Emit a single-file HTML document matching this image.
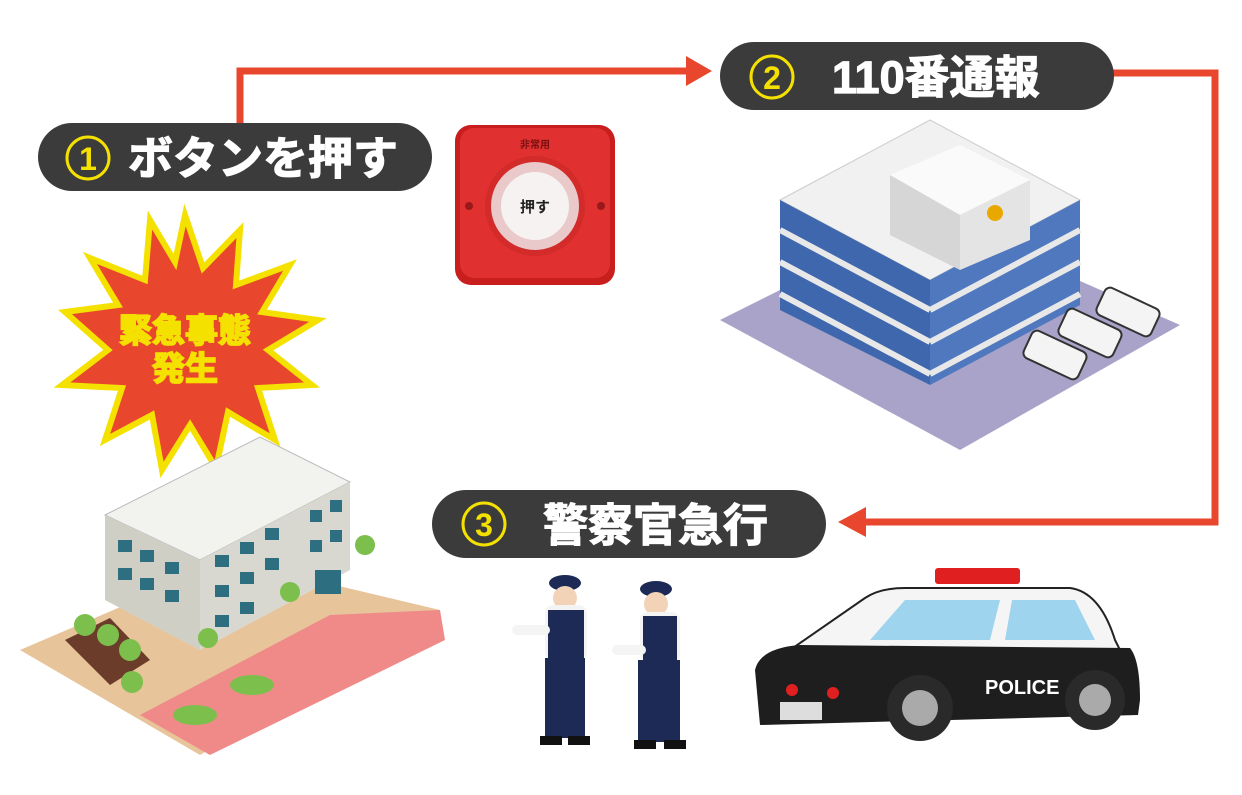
<!DOCTYPE html>
<html><head><meta charset="utf-8"><style>
html,body{margin:0;padding:0;background:#fff;}
svg{display:block;}
text{font-family:"Liberation Sans","Noto Sans CJK JP",sans-serif;font-weight:bold;}
</style></head><body>
<svg width="1242" height="795" viewBox="0 0 1242 795" xmlns="http://www.w3.org/2000/svg">
<polyline points="240,125 240,71 690,71" fill="none" stroke="#e8472d" stroke-width="7"/>
<polygon points="686,56 712,71 686,86" fill="#e8472d"/>
<polyline points="1112,73 1215,73 1215,522 862,522" fill="none" stroke="#e8472d" stroke-width="7"/>
<polygon points="866,507 838,522 866,537" fill="#e8472d"/>

<rect x="38" y="123" width="394" height="68" rx="34" fill="#3b3b3b"/>
<circle cx="88" cy="158" r="21" fill="none" stroke="#f5e100" stroke-width="3"/>
<text x="88" y="170" font-size="32" fill="#f5e100" text-anchor="middle">1</text>
<text x="128" y="174" font-size="45" fill="#fff" stroke="#fff" stroke-width="1.2">ボタンを押す</text>

<rect x="720" y="42" width="394" height="68" rx="34" fill="#3b3b3b"/>
<circle cx="772" cy="77" r="21" fill="none" stroke="#f5e100" stroke-width="3"/>
<text x="772" y="89" font-size="32" fill="#f5e100" text-anchor="middle">2</text>
<text x="832" y="93" font-size="45" fill="#fff" stroke="#fff" stroke-width="1.2">110番通報</text>

<rect x="432" y="490" width="394" height="68" rx="34" fill="#3b3b3b"/>
<circle cx="484" cy="524" r="21" fill="none" stroke="#f5e100" stroke-width="3"/>
<text x="484" y="536" font-size="32" fill="#f5e100" text-anchor="middle">3</text>
<text x="543" y="541" font-size="45" fill="#fff" stroke="#fff" stroke-width="1.2">警察官急行</text>

<rect x="455" y="125" width="160" height="160" rx="16" fill="#c81e1e"/>
<rect x="460" y="128" width="150" height="150" rx="14" fill="#e03030"/>
<text x="535" y="148" font-size="10" fill="#7a1010" text-anchor="middle">非常用</text>
<circle cx="535" cy="206" r="50" fill="#d32a2a"/>
<circle cx="535" cy="206" r="44" fill="#e9c9c9"/>
<circle cx="535" cy="206" r="34" fill="#f6f2f2"/>
<text x="535" y="212" font-size="15" fill="#222" text-anchor="middle">押す</text>
<circle cx="469" cy="206" r="4" fill="#9a1818"/>
<circle cx="601" cy="206" r="4" fill="#9a1818"/>

<polygon points="185,215 203,268 240,230 236,285 290,265 262,312 318,320 268,350 312,385 258,388 275,440 228,412 216,468 190,425 162,470 152,415 105,440 122,388 62,385 108,350 65,312 118,305 90,258 145,280 150,220 175,262" fill="#e8472d" stroke="#f5e100" stroke-width="6" stroke-linejoin="miter"/>
<text x="185" y="342" font-size="33" fill="#f5e100" text-anchor="middle" stroke="#f5e100" stroke-width="1.8">緊急事態</text>
<text x="185" y="380" font-size="33" fill="#f5e100" text-anchor="middle" stroke="#f5e100" stroke-width="1.8">発生</text>

<polygon points="20,650 230,560 440,610 200,755" fill="#e7c49a"/>
<polygon points="140,715 330,615 440,610 445,640 210,755" fill="#f08a88"/>
<polygon points="105,520 260,440 350,485 350,570 200,650 105,600" fill="#e4e4de"/>
<polygon points="105,515 260,437 350,482 200,560" fill="#f2f2ef" stroke="#bbb"/>
<polygon points="200,560 350,482 350,570 200,650" fill="#d8d8d0"/>
<polygon points="105,515 200,560 200,650 105,600" fill="#cfcfc6"/>
<g fill="#2d6f80">
<rect x="118" y="540" width="14" height="12"/><rect x="140" y="550" width="14" height="12"/><rect x="165" y="562" width="14" height="12"/>
<rect x="118" y="568" width="14" height="12"/><rect x="140" y="578" width="14" height="12"/><rect x="165" y="590" width="14" height="12"/>
<rect x="215" y="555" width="14" height="12"/><rect x="240" y="542" width="14" height="12"/><rect x="265" y="528" width="14" height="12"/><rect x="310" y="510" width="12" height="12"/><rect x="330" y="500" width="12" height="12"/>
<rect x="215" y="585" width="14" height="12"/><rect x="240" y="572" width="14" height="12"/><rect x="265" y="558" width="14" height="12"/><rect x="310" y="540" width="12" height="12"/><rect x="330" y="530" width="12" height="12"/>
<rect x="215" y="615" width="14" height="12"/><rect x="240" y="602" width="14" height="12"/><rect x="315" y="570" width="26" height="24"/>
</g>
<polygon points="65,640 110,618 150,660 110,685" fill="#6b3c2a"/>
<g fill="#7cbf4c">
<circle cx="85" cy="625" r="11"/><circle cx="108" cy="635" r="11"/><circle cx="130" cy="650" r="11"/><circle cx="132" cy="682" r="11"/><circle cx="208" cy="638" r="10"/><circle cx="290" cy="592" r="10"/><circle cx="365" cy="545" r="10"/>
<ellipse cx="195" cy="715" rx="22" ry="10"/><ellipse cx="252" cy="685" rx="22" ry="10"/>
</g>

<polygon points="720,320 930,215 1180,325 960,450" fill="#aaa3c9"/>
<polygon points="780,200 930,120 1080,200 930,280" fill="#f1f1f1" stroke="#ccc"/>
<polygon points="780,200 930,280 930,385 780,310" fill="#3f67ad"/>
<polygon points="930,280 1080,200 1080,305 930,385" fill="#4f78bf"/>
<g stroke="#e8e8e8" stroke-width="6">
<line x1="780" y1="230" x2="930" y2="310"/><line x1="780" y1="262" x2="930" y2="342"/><line x1="780" y1="294" x2="930" y2="374"/>
<line x1="930" y1="310" x2="1080" y2="230"/><line x1="930" y1="342" x2="1080" y2="262"/><line x1="930" y1="374" x2="1080" y2="294"/>
</g>
<polygon points="890,175 960,145 1030,180 960,215" fill="#fafafa"/>
<polygon points="960,215 1030,180 1030,240 960,270" fill="#e4e4e4"/>
<polygon points="890,175 960,215 960,270 890,235" fill="#d6d6d6"/>
<circle cx="995" cy="213" r="8" fill="#e8a800"/>
<g fill="#f4f4f4" stroke="#333" stroke-width="2">
<rect x="1025" y="340" width="60" height="30" rx="6" transform="rotate(25 1055 355)"/>
<rect x="1060" y="318" width="60" height="30" rx="6" transform="rotate(25 1090 333)"/>
<rect x="1098" y="297" width="60" height="30" rx="6" transform="rotate(25 1128 312)"/>
</g>

<g>
<ellipse cx="565" cy="583" rx="16" ry="8" fill="#1d2a55"/>
<circle cx="565" cy="598" r="12" fill="#f2d3b8"/>
<rect x="545" y="605" width="42" height="55" rx="8" fill="#f4f4f4"/>
<rect x="548" y="610" width="36" height="48" fill="#1d2a55"/>
<rect x="545" y="658" width="40" height="80" fill="#1d2a55"/>
<rect x="540" y="736" width="22" height="9" fill="#111"/><rect x="568" y="736" width="22" height="9" fill="#111"/>
<rect x="512" y="625" width="38" height="10" rx="5" fill="#f4f4f4"/>
<ellipse cx="656" cy="589" rx="16" ry="8" fill="#1d2a55"/>
<circle cx="656" cy="604" r="12" fill="#f2d3b8"/>
<rect x="640" y="612" width="40" height="50" rx="8" fill="#f4f4f4"/>
<rect x="643" y="616" width="34" height="46" fill="#1d2a55"/>
<rect x="638" y="660" width="42" height="82" fill="#1d2a55"/>
<rect x="634" y="740" width="22" height="9" fill="#111"/><rect x="664" y="740" width="22" height="9" fill="#111"/>
<rect x="612" y="645" width="34" height="10" rx="5" fill="#f4f4f4"/>
</g>

<rect x="935" y="568" width="85" height="16" rx="3" fill="#e02020"/>
<path d="M790 650 L865 598 Q880 588 905 588 L1070 588 Q1100 592 1115 640 L1125 660 L790 660 Z" fill="#f5f5f5" stroke="#222" stroke-width="2"/>
<polygon points="870,640 905,600 1000,600 990,640" fill="#9fd4ef"/>
<polygon points="1005,640 1012,600 1075,600 1095,640" fill="#9fd4ef"/>
<path d="M755 670 Q760 648 800 645 L1130 648 Q1140 660 1140 700 L1138 715 L760 725 Z" fill="#1e1e1e"/>
<text x="985" y="694" font-size="20" fill="#fff">POLICE</text>
<rect x="780" y="702" width="42" height="18" fill="#ddd"/>
<circle cx="792" cy="690" r="6" fill="#e02020"/><circle cx="833" cy="693" r="6" fill="#e02020"/>
<circle cx="920" cy="708" r="33" fill="#2a2a2a"/><circle cx="920" cy="708" r="18" fill="#aaa"/>
<circle cx="1095" cy="700" r="30" fill="#2a2a2a"/><circle cx="1095" cy="700" r="16" fill="#aaa"/>
</svg>
</body></html>
